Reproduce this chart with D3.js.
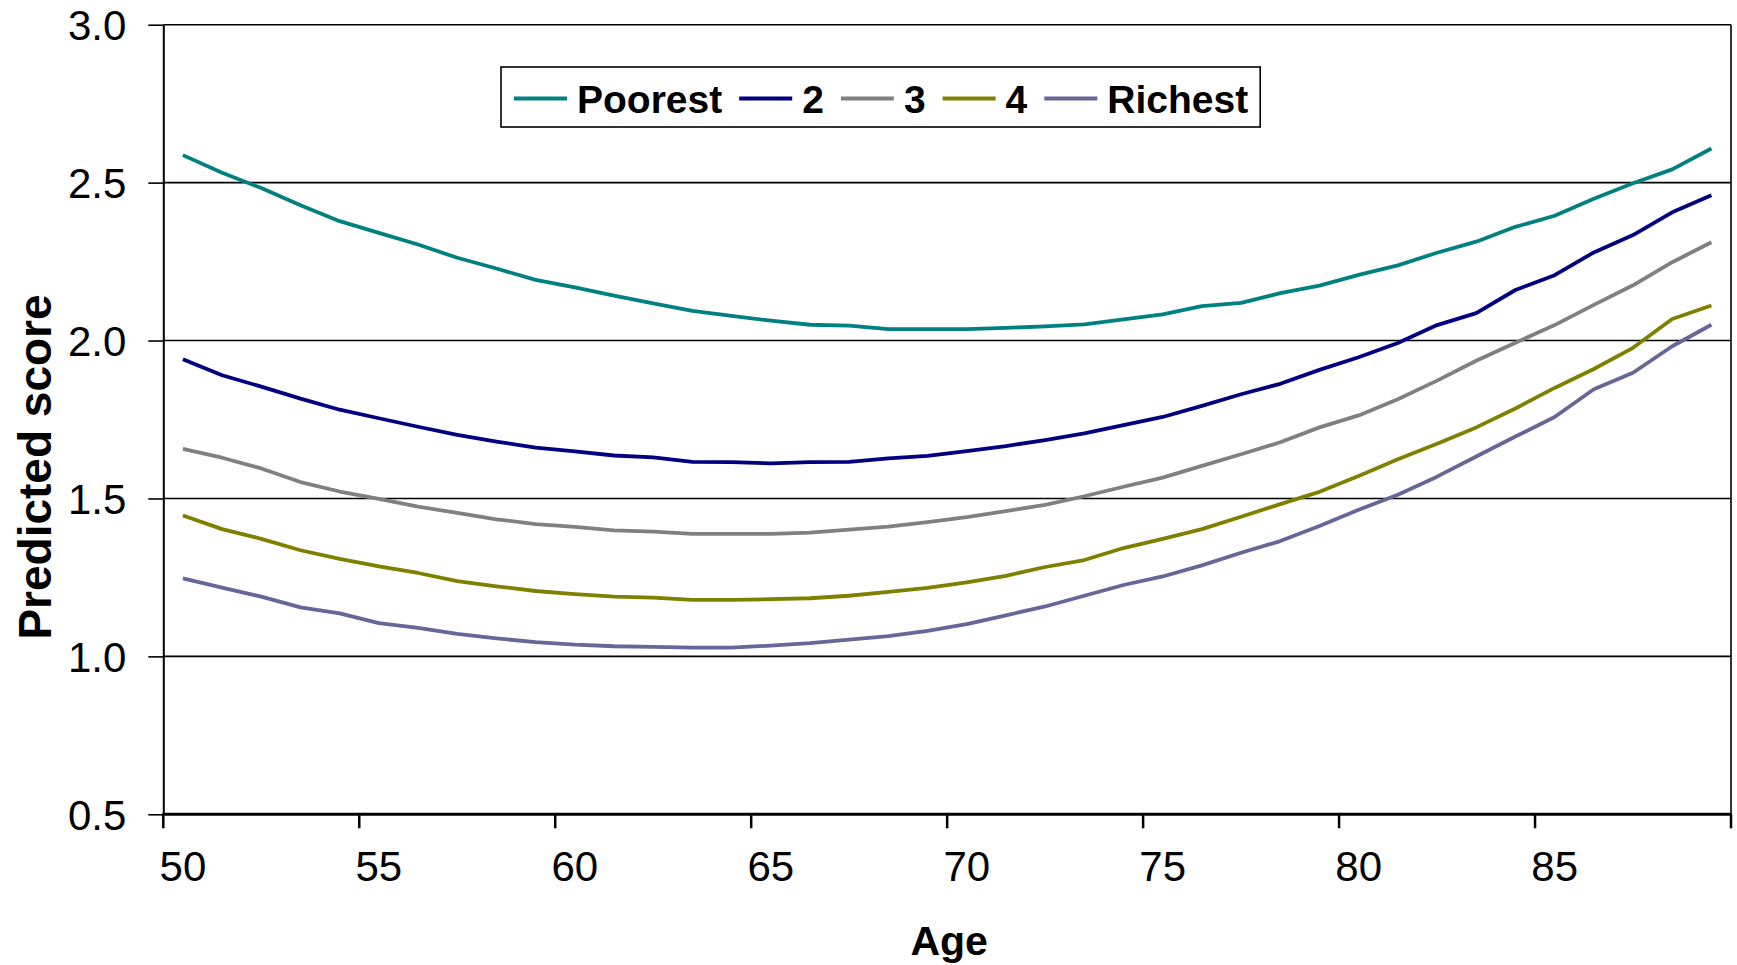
<!DOCTYPE html>
<html>
<head>
<meta charset="utf-8">
<script src="https://cdn.jsdelivr.net/npm/d3@7"></script>
<style>
  html, body { margin: 0; padding: 0; background: #fff; }
  svg { display: block; font-family: "Liberation Sans", Arial, sans-serif; }
</style>
</head>
<body>
<svg id="chart" width="1737" height="965"></svg>
<script>
// ---- Data ----
const ages = d3.range(50, 90); // 50..89
const xTickLabels = [50, 55, 60, 65, 70, 75, 80, 85];
const yTickValues = [0.5, 1.0, 1.5, 2.0, 2.5, 3.0];
const seriesNames = ["Poorest", "2", "3", "4", "Richest"];
const seriesColors = ["#008080", "#000080", "#808080", "#808000", "#666699"];

const poorest = [2.587, 2.531, 2.483, 2.428, 2.378, 2.341, 2.304, 2.262, 2.228, 2.192,
                 2.168, 2.142, 2.118, 2.094, 2.078, 2.063, 2.050, 2.047, 2.036, 2.036,
                 2.036, 2.040, 2.045, 2.051, 2.067, 2.083, 2.109, 2.119, 2.150, 2.174,
                 2.208, 2.238, 2.278, 2.313, 2.360, 2.395, 2.449, 2.498, 2.542, 2.608];
const q2 = [1.941, 1.890, 1.854, 1.816, 1.781, 1.754, 1.727, 1.701, 1.680, 1.661,
            1.649, 1.636, 1.630, 1.616, 1.615, 1.611, 1.615, 1.616, 1.627, 1.635,
            1.650, 1.666, 1.685, 1.706, 1.732, 1.758, 1.793, 1.830, 1.863, 1.907,
            1.947, 1.992, 2.049, 2.087, 2.160, 2.207, 2.279, 2.334, 2.406, 2.460];
const q3 = [1.657, 1.629, 1.595, 1.552, 1.522, 1.499, 1.474, 1.454, 1.434, 1.419,
            1.410, 1.399, 1.395, 1.388, 1.388, 1.388, 1.392, 1.401, 1.411, 1.425,
            1.441, 1.460, 1.480, 1.507, 1.537, 1.566, 1.603, 1.640, 1.678, 1.725,
            1.763, 1.814, 1.873, 1.936, 1.993, 2.049, 2.113, 2.175, 2.248, 2.311];
const q4 = [1.446, 1.403, 1.372, 1.336, 1.309, 1.285, 1.264, 1.238, 1.222, 1.207,
            1.197, 1.189, 1.186, 1.179, 1.179, 1.181, 1.184, 1.192, 1.204, 1.217,
            1.234, 1.255, 1.283, 1.305, 1.343, 1.372, 1.403, 1.442, 1.482, 1.521,
            1.571, 1.624, 1.673, 1.725, 1.785, 1.850, 1.910, 1.977, 2.068, 2.111];
const richest = [1.247, 1.218, 1.189, 1.155, 1.136, 1.105, 1.090, 1.071, 1.057, 1.045,
                 1.037, 1.032, 1.030, 1.028, 1.028, 1.034, 1.042, 1.053, 1.064, 1.081,
                 1.102, 1.130, 1.158, 1.192, 1.226, 1.253, 1.288, 1.328, 1.365, 1.413,
                 1.464, 1.512, 1.569, 1.633, 1.696, 1.758, 1.846, 1.898, 1.982, 2.050];
const seriesValues = [poorest, q2, q3, q4, richest];

// ---- Layout ----
const plotLeft = 163.3, plotRight = 1731, plotTop = 24.7, plotBottom = 814.3;
const FONT = '"Liberation Sans", Arial, sans-serif';

const svg = d3.select("#chart");

const x = d3.scaleBand().domain(ages).range([plotLeft, plotRight]).paddingInner(0).paddingOuter(0);
const y = d3.scaleLinear().domain([0.5, 3.0]).range([plotBottom, plotTop]);
const cx = a => x(a) + x.bandwidth() / 2;

// gridlines
svg.append("g").selectAll("line")
  .data(yTickValues.filter(v => v > 0.5))
  .join("line")
  .attr("x1", plotLeft).attr("x2", plotRight)
  .attr("y1", d => y(d)).attr("y2", d => y(d))
  .attr("stroke", "#000").attr("stroke-width", 1.6);

// right border
svg.append("line")
  .attr("x1", plotRight).attr("x2", plotRight).attr("y1", plotTop).attr("y2", plotBottom)
  .attr("stroke", "#000").attr("stroke-width", 1.6);

// y axis
const yAxis = d3.axisLeft(y).tickValues(yTickValues).tickFormat(d3.format(".1f")).tickSize(15).tickSizeOuter(0);
const gy = svg.append("g").attr("transform", `translate(${plotLeft},0)`).call(yAxis);
gy.select(".domain").attr("stroke", "#000").attr("stroke-width", 2);
gy.selectAll(".tick line").attr("stroke", "#000").attr("stroke-width", 1.6);
gy.selectAll(".tick text")
  .attr("x", -37)
  .attr("dy", "0.36em")
  .attr("font-family", FONT).attr("font-size", 42).attr("fill", "#000");

// x axis: labels at category centres
const xAxis = d3.axisBottom(x).tickValues(xTickLabels).tickSize(0).tickSizeOuter(0);
const gx = svg.append("g").attr("transform", `translate(0,${plotBottom})`).call(xAxis);
gx.select(".domain").remove();
gx.selectAll(".tick text")
  .attr("y", 67).attr("dy", 0)
  .attr("font-family", FONT).attr("font-size", 42).attr("fill", "#000");

// x tick marks at category boundaries every 5
const boundaryAges = xTickLabels.concat([90]);
svg.append("g").selectAll("line")
  .data(boundaryAges)
  .join("line")
  .attr("x1", d => d === 90 ? plotRight : x(d))
  .attr("x2", d => d === 90 ? plotRight : x(d))
  .attr("y1", plotBottom).attr("y2", plotBottom + 14)
  .attr("stroke", "#000").attr("stroke-width", 2.5);

// x axis line
svg.append("line")
  .attr("x1", plotLeft - 1).attr("x2", plotRight + 1).attr("y1", plotBottom).attr("y2", plotBottom)
  .attr("stroke", "#000").attr("stroke-width", 3);

// series lines
const line = d3.line().x((d, i) => cx(ages[i])).y(d => y(d));
svg.append("g").selectAll("path")
  .data(seriesValues)
  .join("path")
  .attr("d", d => line(d))
  .attr("fill", "none")
  .attr("stroke", (d, i) => seriesColors[i])
  .attr("stroke-width", 3.8)
  .attr("stroke-linejoin", "round");

// axis titles
svg.append("text")
  .attr("x", (plotLeft + plotRight) / 2 + 2).attr("y", 955)
  .attr("text-anchor", "middle")
  .attr("font-family", FONT).attr("font-weight", "bold").attr("font-size", 41)
  .text("Age");

svg.append("text")
  .attr("transform", `translate(51,467) rotate(-90)`)
  .attr("text-anchor", "middle")
  .attr("font-family", FONT).attr("font-weight", "bold").attr("font-size", 46)
  .text("Predicted score");

// legend
const legX = 501, legY = 67, legH = 60;
const leg = svg.append("g");
const legBox = leg.append("rect")
  .attr("x", legX).attr("y", legY).attr("height", legH)
  .attr("fill", "#fff").attr("stroke", "#000").attr("stroke-width", 1.6);
let cur = legX + 13;
const midY = legY + legH / 2 + 1.5;
seriesNames.forEach((name, i) => {
  leg.append("line")
    .attr("x1", cur).attr("x2", cur + 53)
    .attr("y1", midY).attr("y2", midY)
    .attr("stroke", seriesColors[i]).attr("stroke-width", 4);
  const t = leg.append("text")
    .attr("x", cur + 63).attr("y", midY + 14)
    .attr("font-family", FONT).attr("font-weight", "bold").attr("font-size", 39)
    .text(name);
  const w = t.node().getComputedTextLength();
  cur = cur + 63 + w + 17;
});
legBox.attr("width", cur - 17 + 12 - legX);
</script>
</body>
</html>
